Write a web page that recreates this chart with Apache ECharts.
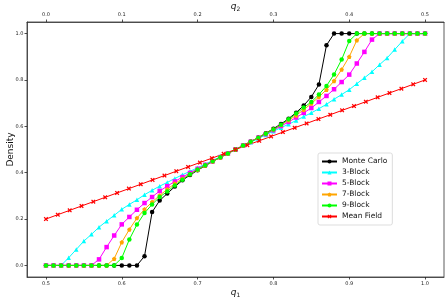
<!DOCTYPE html>
<html><head><meta charset="utf-8">
<script src="https://cdn.jsdelivr.net/npm/echarts@6/dist/echarts.min.js"></script>
<style>html,body{margin:0;padding:0;background:#fff}#c{width:448px;height:301px}</style>
</head><body><div id="c"></div>
<script>
const qFine = [0.50,0.51,0.52,0.53,0.54,0.55,0.56,0.57,0.58,0.59,0.60,0.61,0.62,0.63,0.64,0.65,0.66,0.67,0.68,0.69,0.70,0.71,0.72,0.73,0.74,0.75,0.76,0.77,0.78,0.79,0.80,0.81,0.82,0.83,0.84,0.85,0.86,0.87,0.88,0.89,0.90,0.91,0.92,0.93,0.94,0.95,0.96,0.97,0.98,0.99,1.00];
const qMF = [0.5000,0.5156,0.5313,0.5469,0.5625,0.5781,0.5938,0.6094,0.6250,0.6406,0.6563,0.6719,0.6875,0.7031,0.7188,0.7344,0.7500,0.7656,0.7813,0.7969,0.8125,0.8281,0.8438,0.8594,0.8750,0.8906,0.9063,0.9219,0.9375,0.9531,0.9688,0.9844,1.0000];
const monteCarlo = [0,0,0,0,0,0,0,0,0,0,0,0,0,0.04,0.23,0.28,0.31,0.34,0.367,0.39,0.41,0.43,0.448,0.466,0.483,0.5,0.517,0.534,0.552,0.57,0.59,0.61,0.633,0.659,0.69,0.727,0.78,0.95,1,1,1,1,1,1,1,1,1,1,1,1,1];
const block3 = [0,0,0,0.033,0.069,0.105,0.134,0.165,0.191,0.216,0.242,0.263,0.283,0.305,0.324,0.342,0.358,0.375,0.391,0.406,0.421,0.437,0.453,0.469,0.484,0.5,0.516,0.531,0.547,0.563,0.579,0.594,0.609,0.625,0.642,0.658,0.676,0.695,0.717,0.737,0.758,0.784,0.809,0.835,0.866,0.895,0.931,0.967,1,1,1];
const block5 = [0,0,0,0,0,0,0,0.026,0.079,0.129,0.177,0.209,0.24,0.269,0.295,0.321,0.342,0.362,0.381,0.399,0.417,0.434,0.45,0.467,0.483,0.5,0.517,0.533,0.55,0.566,0.583,0.601,0.619,0.638,0.658,0.679,0.705,0.731,0.76,0.791,0.823,0.871,0.921,0.974,1,1,1,1,1,1,1];
const block7 = [0,0,0,0,0,0,0,0,0,0.029,0.10,0.155,0.204,0.242,0.273,0.302,0.328,0.353,0.374,0.394,0.413,0.431,0.449,0.466,0.483,0.5,0.517,0.534,0.551,0.569,0.587,0.606,0.626,0.647,0.672,0.698,0.727,0.758,0.796,0.845,0.90,0.971,1,1,1,1,1,1,1,1,1];
const block9 = [0,0,0,0,0,0,0,0,0,0,0.032,0.112,0.176,0.226,0.263,0.295,0.319,0.345,0.37,0.393,0.414,0.432,0.45,0.467,0.483,0.5,0.517,0.533,0.55,0.568,0.586,0.607,0.63,0.655,0.681,0.705,0.737,0.774,0.824,0.888,0.968,1,1,1,1,1,1,1,1,1,1];
const meanField = [0.2000,0.2188,0.2375,0.2563,0.2750,0.2938,0.3125,0.3313,0.3500,0.3688,0.3875,0.4063,0.4250,0.4438,0.4625,0.4813,0.5000,0.5188,0.5375,0.5563,0.5750,0.5938,0.6125,0.6313,0.6500,0.6688,0.6875,0.7063,0.7250,0.7438,0.7625,0.7813,0.8000];
const q1Ticks = [0.5,0.6,0.7,0.8,0.9,1.0];
const q2Ticks = [0.0,0.1,0.2,0.3,0.4,0.5];
const yTicks = [0.0,0.2,0.4,0.6,0.8,1.0];
const seriesNames = ['Monte Carlo','3-Block','5-Block','7-Block','9-Block','Mean Field'];

const F = 'DejaVu Sans';
const zip = (xs, ys) => xs.map((x, i) => [x, ys[i]]);
const xPath = 'path://M2,0 L5,3 L8,0 L10,2 L7,5 L10,8 L8,10 L5,7 L2,10 L0,8 L3,5 L0,2 Z';
const pentPath = 'path://M5,0 L10,3.8 L8.1,10 L1.9,10 L0,3.8 Z';
function mk(name, xs, ys, color, symbol, size) {
  return {name, type:'line', data: zip(xs, ys), xAxisIndex:0, yAxisIndex:0,
    symbol, symbolSize:size, showSymbol:true, animation:false,
    lineStyle:{color, width:1}, itemStyle:{color, borderWidth:0}, emphasis:{disabled:true}};
}
const axisCommon = {
  axisLine:{show:true, onZero:false, lineStyle:{color:'#333', width:0.8}}, splitLine:{show:false},
  axisTick:{show:true, length:2.5, lineStyle:{color:'#222', width:0.8}},
  axisLabel:{fontFamily:F, fontSize:5, color:'#222', margin:4.5, formatter:v=>v.toFixed(1)},
  nameMoveOverlap:false
};
const subRich = {q:{fontFamily:F, fontStyle:'italic', fontSize:9, color:'#111'}, s:{fontFamily:F, fontSize:6, color:'#111', verticalAlign:'bottom', padding:[4,0,0,0]}};
const chart = echarts.init(document.getElementById('c'), null, {renderer:'canvas'});
chart.setOption({
  animation:false,
  backgroundColor:'#fff',
  grid:{left:27, top:22, width:417, height:255, containLabel:false, outerBoundsMode:'none',
        show:true, borderColor:'#333', borderWidth:0.8, backgroundColor:'transparent'},
  xAxis:[
    Object.assign({}, axisCommon, {type:'value', position:'bottom', min:0.475, max:1.025,
      axisTick:Object.assign({}, axisCommon.axisTick, {customValues:q1Ticks}),
      axisLabel:Object.assign({}, axisCommon.axisLabel, {customValues:q1Ticks}),
      name:'{q|q}{s|1}', nameLocation:'middle', nameGap:11,
      nameTextStyle:{rich:subRich}}),
    Object.assign({}, axisCommon, {type:'value', position:'top', min:-0.025, max:0.525,
      axisTick:Object.assign({}, axisCommon.axisTick, {customValues:q2Ticks}),
      axisLabel:Object.assign({}, axisCommon.axisLabel, {customValues:q2Ticks}),
      name:'{q|q}{s|2}', nameLocation:'middle', nameGap:10,
      nameTextStyle:{rich:subRich}})
  ],
  yAxis:[
    Object.assign({}, axisCommon, {type:'value', position:'left', min:-0.05, max:1.05,
      axisTick:Object.assign({}, axisCommon.axisTick, {customValues:yTicks}),
      axisLabel:Object.assign({}, axisCommon.axisLabel, {customValues:yTicks, margin:3.5}),
      name:'Density', nameLocation:'middle', nameGap:12, nameRotate:90,
      nameTextStyle:{fontFamily:F, fontSize:9, color:'#111'}})
  ],
  legend:{
    orient:'vertical', left:318, top:153, data:seriesNames,
    itemWidth:15, itemHeight:5, itemGap:0,
    padding:[3,5,3,3], borderColor:'#ddd', borderWidth:1, borderRadius:2,
    backgroundColor:'rgba(255,255,255,0.85)',
    textStyle:{fontFamily:F, fontSize:7.5, color:'#111', lineHeight:11, padding:[0,0,0,0]},
    selectedMode:false
  },
  series:[
    mk(seriesNames[0], qFine, monteCarlo, '#000000', 'circle', 4.5),
    mk(seriesNames[1], qFine, block3, '#00ffff', 'triangle', 4.5),
    mk(seriesNames[2], qFine, block5, '#ff00ff', 'rect', 4.5),
    mk(seriesNames[3], qFine, block7, '#ffa500', pentPath, 4.5),
    mk(seriesNames[4], qFine, block9, '#00ff00', 'circle', 4.5),
    mk(seriesNames[5], qMF, meanField, '#ff0000', xPath, 4.5)
  ]
});
</script>
</body></html>
